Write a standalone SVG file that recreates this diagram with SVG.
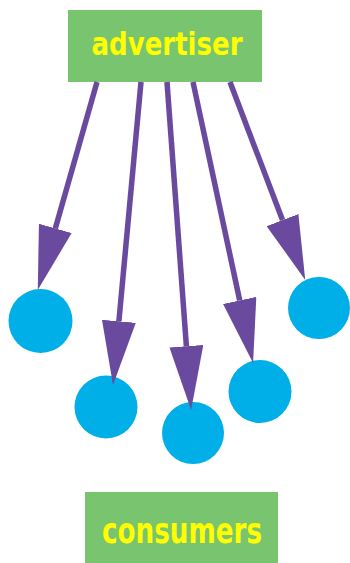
<svg xmlns="http://www.w3.org/2000/svg" width="350" height="563" viewBox="0 0 350 563">
  <defs>
    <style>
      .box { fill: #78c46f; }
      .label { fill: #ffff00; font-family: "DejaVu Sans Condensed", "DejaVu Sans", sans-serif; font-weight: bold; text-anchor: middle; }
      .consumer { fill: #00aee8; }
      .edge { stroke: #6a4a9e; stroke-width: 5.5; fill: none; marker-end: url(#head); }
    </style>
    <marker id="head" markerUnits="userSpaceOnUse" viewBox="0 0 64 34" refX="0" refY="17" markerWidth="64" markerHeight="34" orient="auto">
      <path d="M0,0 L64,17 L0,34 Z" fill="#6a4a9e"/>
    </marker>
  </defs>
  <rect width="350" height="563" fill="#ffffff"/>
  <g id="advertiser">
    <rect class="box" x="68" y="10" width="194" height="72"/>
    <text class="label" x="167" y="55" font-size="32" textLength="151" lengthAdjust="spacingAndGlyphs">advertiser</text>
  </g>
  <g id="consumer-1"><circle class="consumer" cx="40.5" cy="321" r="32"/></g>
  <g id="consumer-2"><circle class="consumer" cx="106" cy="407" r="31.5"/></g>
  <g id="consumer-3"><circle class="consumer" cx="193" cy="433" r="31"/></g>
  <g id="consumer-4"><circle class="consumer" cx="260" cy="391.5" r="31.5"/></g>
  <g id="consumer-5"><circle class="consumer" cx="319" cy="308" r="31"/></g>
  <g id="consumers">
    <rect class="box" x="85" y="492" width="193" height="71"/>
    <text class="label" x="182" y="543" font-size="35" textLength="160" lengthAdjust="spacingAndGlyphs">consumers</text>
  </g>
  <g id="connectors">
    <line class="edge" x1="97" y1="82" x2="55.3" y2="228.4"/>
    <line class="edge" x1="141" y1="82" x2="118.9" y2="321.3"/>
    <line class="edge" x1="167" y1="82" x2="186.4" y2="346.2"/>
    <line class="edge" x1="193" y1="82" x2="239.7" y2="300.4"/>
    <line class="edge" x1="230" y1="82" x2="282.5" y2="220.1"/>
  </g>
</svg>
